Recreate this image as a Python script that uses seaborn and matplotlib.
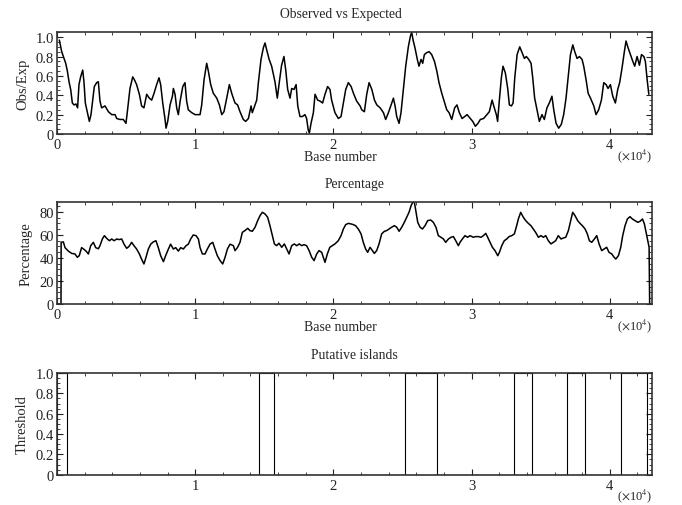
import numpy as np
import pandas as pd
import matplotlib
matplotlib.use("Agg")
import matplotlib.pyplot as plt
import seaborn as sns
from matplotlib.ticker import MultipleLocator, FuncFormatter

# ---------------- data (positions in kilobases) ----------------
oe_kb = [0.17, 0.34, 0.46, 0.63, 0.75, 0.87, 0.99, 1.11, 1.23, 1.37, 1.49, 1.59, 1.71, 1.86, 1.95,
         2.05, 2.20, 2.34, 2.46, 2.58, 2.70, 2.87, 2.99, 3.11, 3.23, 3.47, 3.72, 3.96, 4.20, 4.32,
         4.56, 4.80, 4.99, 5.09, 5.28, 5.48, 5.60, 5.76, 5.96, 6.12, 6.29, 6.49, 6.68, 6.85, 7.02,
         7.21, 7.38, 7.50, 7.65, 7.81, 7.89, 8.01, 8.18, 8.35, 8.42, 8.54, 8.66, 8.78, 8.91, 9.10,
         9.26, 9.38, 9.50, 9.75, 9.99, 10.35, 10.47, 10.64, 10.83, 10.95, 11.12, 11.31, 11.56, 11.75,
         11.92, 12.08, 12.28, 12.47, 12.64, 12.88, 13.07, 13.24, 13.48, 13.65, 13.85, 14.04, 14.13,
         14.33, 14.45, 14.57, 14.76, 14.93, 15.05, 15.17, 15.35, 15.53, 15.77, 15.94, 16.08, 16.25,
         16.42, 16.55, 16.69, 16.86, 16.98, 17.15, 17.30, 17.42, 17.58, 17.75, 17.94, 18.06, 18.18,
         18.26, 18.38, 18.55, 18.67, 18.86, 19.03, 19.22, 19.39, 19.58, 19.75, 19.87, 20.11, 20.36,
         20.55, 20.72, 20.89, 21.08, 21.28, 21.45, 21.68, 21.93, 22.05, 22.24, 22.41, 22.58, 22.78,
         22.97, 23.14, 23.38, 23.62, 23.78, 23.98, 24.22, 24.34, 24.46, 24.58, 24.75, 24.89, 25.06,
         25.23, 25.42, 25.57, 25.66, 25.78, 25.90, 26.07, 26.19, 26.34, 26.46, 26.58, 26.75, 26.92,
         27.11, 27.31, 27.48, 27.64, 27.84, 28.01, 28.20, 28.37, 28.56, 28.77, 28.94, 29.11, 29.31,
         29.50, 29.67, 29.91, 30.08, 30.27, 30.46, 30.63, 30.87, 31.11, 31.28, 31.48, 31.64, 31.79,
         31.88, 32.00, 32.15, 32.27, 32.44, 32.61, 32.73, 32.88, 33.00, 33.12, 33.29, 33.48, 33.65,
         33.82, 33.96, 34.13, 34.30, 34.42, 34.56, 34.73, 34.90, 35.09, 35.26, 35.45, 35.62, 35.81,
         35.94, 36.11, 36.30, 36.49, 36.66, 36.83, 36.98, 37.15, 37.32, 37.46, 37.63, 37.80, 37.99,
         38.11, 38.28, 38.43, 38.60, 38.84, 39.00, 39.19, 39.39, 39.56, 39.73, 39.87, 40.04, 40.21,
         40.40, 40.57, 40.71, 40.88, 41.05, 41.17, 41.32, 41.49, 41.66, 41.80, 41.97, 42.14, 42.29,
         42.46, 42.57, 42.70, 42.82]
oe_val = [0.97, 0.85, 0.80, 0.73, 0.65, 0.54, 0.46, 0.32, 0.30, 0.31, 0.27, 0.51, 0.59, 0.66, 0.54,
          0.32, 0.22, 0.13, 0.20, 0.35, 0.49, 0.53, 0.54, 0.34, 0.27, 0.29, 0.23, 0.20, 0.20, 0.16,
          0.15, 0.15, 0.11, 0.23, 0.47, 0.59, 0.56, 0.51, 0.41, 0.29, 0.27, 0.41, 0.37, 0.35, 0.42,
          0.51, 0.58, 0.51, 0.32, 0.16, 0.06, 0.13, 0.30, 0.39, 0.47, 0.41, 0.27, 0.20, 0.34, 0.49,
          0.53, 0.34, 0.25, 0.22, 0.20, 0.20, 0.30, 0.56, 0.73, 0.65, 0.51, 0.42, 0.37, 0.30,
          0.20, 0.23, 0.37, 0.51, 0.42, 0.32, 0.30, 0.23, 0.15, 0.13, 0.16, 0.29, 0.22,
          0.30, 0.35, 0.53, 0.77, 0.89, 0.94, 0.87, 0.77, 0.70, 0.54, 0.37, 0.53, 0.71,
          0.80, 0.66, 0.46, 0.37, 0.47, 0.46, 0.51, 0.29, 0.18, 0.18, 0.20, 0.16, 0.04,
          0.01, 0.11, 0.22, 0.41, 0.35, 0.34, 0.32, 0.41, 0.49, 0.46, 0.35, 0.22, 0.16,
          0.18, 0.32, 0.46, 0.53, 0.49, 0.42, 0.34, 0.29, 0.25, 0.23, 0.41, 0.53, 0.46,
          0.35, 0.30, 0.27, 0.22, 0.15, 0.22, 0.32, 0.37, 0.29, 0.18, 0.11, 0.22, 0.46,
          0.70, 0.90, 1.01, 1.05, 0.96, 0.89, 0.77, 0.70, 0.77, 0.73, 0.82, 0.84, 0.85,
          0.82, 0.75, 0.65, 0.53, 0.42, 0.34, 0.25, 0.22, 0.15, 0.27, 0.30, 0.22, 0.16,
          0.18, 0.20, 0.16, 0.13, 0.08, 0.11, 0.15, 0.16, 0.20, 0.23, 0.35, 0.27, 0.20,
          0.13, 0.34, 0.58, 0.70, 0.63, 0.47, 0.30, 0.29, 0.32, 0.58, 0.82, 0.90, 0.84,
          0.78, 0.80, 0.77, 0.73, 0.58, 0.37, 0.25, 0.13, 0.20, 0.15, 0.27, 0.32, 0.39,
          0.25, 0.11, 0.06, 0.10, 0.20, 0.37, 0.58, 0.82, 0.92, 0.85, 0.78, 0.80, 0.77,
          0.70, 0.56, 0.42, 0.37, 0.29, 0.20, 0.25, 0.35, 0.53, 0.51, 0.47, 0.51, 0.39,
          0.32, 0.46, 0.53, 0.68, 0.85, 0.96, 0.89, 0.82, 0.75, 0.70, 0.80, 0.71, 0.82,
          0.80, 0.75, 0.56, 0.41]

pct_kb = [0.00, 0.29, 0.30, 0.46, 0.58, 0.82, 1.06, 1.30, 1.47, 1.61, 1.78, 1.90, 2.10, 2.27, 2.44,
          2.63, 2.80, 2.99, 3.11, 3.28, 3.43, 3.60, 3.79, 3.96, 4.13, 4.32, 4.49, 4.68, 4.85, 5.04,
          5.21, 5.40, 5.57, 5.76, 5.96, 6.12, 6.29, 6.44, 6.61, 6.78, 6.97, 7.16, 7.33, 7.50, 7.70,
          7.86, 8.06, 8.22, 8.42, 8.59, 8.78, 8.95, 9.14, 9.34, 9.50, 9.67, 9.86, 10.06, 10.23, 10.35,
          10.52, 10.71, 10.88, 11.07, 11.27, 11.43, 11.60, 11.80, 11.99, 12.16, 12.33, 12.52, 12.76,
          12.88, 13.07, 13.24, 13.41, 13.60, 13.80, 13.96, 14.13, 14.33, 14.52, 14.69, 14.86, 15.05,
          15.24, 15.41, 15.58, 15.73, 15.89, 16.06, 16.26, 16.45, 16.62, 16.79, 16.98, 17.17, 17.34,
          17.53, 17.70, 17.87, 18.06, 18.24, 18.43, 18.60, 18.79, 18.96, 19.15, 19.27, 19.39, 19.56,
          19.74, 19.92, 20.11, 20.35, 20.55, 20.72, 20.89, 21.08, 21.27, 21.44, 21.61, 21.80, 22.00,
          22.16, 22.33, 22.48, 22.65, 22.82, 22.96, 23.13, 23.30, 23.49, 23.69, 23.85, 24.02, 24.21,
          24.41, 24.58, 24.75, 24.94, 25.13, 25.30, 25.47, 25.62, 25.74, 25.86, 25.98, 26.10, 26.27,
          26.44, 26.63, 26.82, 27.04, 27.23, 27.42, 27.59, 27.78, 27.96, 28.12, 28.32, 28.51, 28.68,
          28.85, 29.04, 29.16, 29.33, 29.52, 29.71, 29.88, 30.12, 30.29, 30.49, 30.68, 30.85, 31.02,
          31.16, 31.33, 31.50, 31.69, 31.89, 32.01, 32.18, 32.36, 32.54, 32.71, 32.90, 33.09, 33.26,
          33.38, 33.55, 33.74, 33.91, 34.10, 34.29, 34.46, 34.63, 34.83, 35.02, 35.19, 35.36, 35.55,
          35.74, 35.91, 36.08, 36.27, 36.47, 36.64, 36.81, 37.00, 37.17, 37.31, 37.48, 37.67, 37.84,
          38.01, 38.21, 38.37, 38.52, 38.69, 38.88, 39.05, 39.22, 39.41, 39.58, 39.77, 39.94, 40.14,
          40.31, 40.43, 40.62, 40.79, 40.93, 41.10, 41.27, 41.46, 41.63, 41.82, 42.02, 42.19, 42.36,
          42.50, 42.62, 42.74, 42.84, 42.88, 43.05]
pct_val = [0, 0, 53.6, 54, 49, 46, 44, 43.5, 40.6, 42, 49, 48, 46, 43.5, 50.7,
           53.6, 49, 48, 50.7, 56.5, 59.4, 57, 55, 56.5, 55, 56.5, 56, 56.5, 52, 48.4,
           50, 53.6, 50.7, 47.8, 43.5, 39, 34.8, 40.6, 47.8, 52, 54, 55, 49, 42, 36.8,
           42, 47.8, 52, 47.8, 49, 46, 49, 47.8, 50.7, 52, 56.5, 60, 59.4, 56.5, 49,
           43.5, 43.5, 47.8, 52, 53.6, 47.8, 42, 37.7, 34.8, 40.6, 47.8, 52, 50.7,
           46.4, 49.3, 53.6, 62.3, 63.8, 65.8, 63.8, 63.2, 66.7, 72.5, 76.8, 79.7, 78.3,
           75.4, 68, 59.4, 52.2, 50.7, 52.8, 49.3, 52.2, 47.8, 43.5, 50.7, 52.2, 50.7,
           52.2, 50.7, 51.6, 50.7, 46.4, 40.6, 37.7, 43.5, 46.4, 44.9, 40.6, 36.2, 43.5,
           49.3, 50.7, 52.2, 55, 59.4, 65.2, 69, 70.1, 69.6, 69, 68, 65.2, 60.9,
           53.6, 47.8, 44.9, 49.3, 46.4, 44, 46.4, 52.2, 60.9, 63.2, 63.8, 65.2, 66.7,
           68.1, 66.7, 63.2, 66.7, 71, 75.4, 79.7, 85.5, 88.4, 88.4, 79.7, 71, 66.7,
           65.2, 68.1, 72.5, 73, 71, 66.7, 59.4, 58, 56.5, 53.6, 56.5, 58, 58.6,
           55, 50.7, 53.6, 56.5, 59.4, 58, 59.4, 58, 58.6, 58.6, 58, 59.4, 61.4,
           58, 53.6, 49.3, 46.4, 42, 44.9, 50.7, 55, 56.5, 58.6, 59.4, 60.9, 68.1,
           73.9, 79.7, 75.4, 72.5, 70.1, 68.1, 65.2, 62.3, 58, 59.4, 58, 59.4, 55,
           52.2, 53.6, 55, 59.4, 56.5, 57.4, 58, 63.8, 72.5, 79.7, 76.8, 72.5, 70.1,
           68.1, 65.2, 60.9, 55, 53.6, 56.5, 59.4, 52.2, 46.4, 47.8, 49.3, 44.9, 43.5,
           40.6, 39.1, 42, 49.3, 59.4, 68.1, 73.9, 75.9, 73.9, 72.5, 71, 71.9, 73.9,
           69.6, 62.3, 55, 49.3, 0, 0]

island_start_kb = [0.0, 14.60, 25.20, 33.09, 36.93, 40.83]
island_end_kb = [0.76, 15.70, 27.52, 34.39, 38.23, 42.67]
seq_len_kb = 43.05

titles = ["Observed vs Expected", "Percentage", "Putative islands"]
ylabels = ["Obs/Exp", "Percentage", "Threshold"]

# ---------------- build frames ----------------
df_oe = pd.DataFrame({"pos": np.array(oe_kb) * 1000, "val": oe_val})
df_pct = pd.DataFrame({"pos": np.array(pct_kb) * 1000, "val": pct_val})
th_x, th_y = [0.0], [0.0]
for s, e in zip(island_start_kb, island_end_kb):
    th_x += [s * 1000, s * 1000, e * 1000, e * 1000]
    th_y += [0, 1, 1, 0]
th_x.append(seq_len_kb * 1000)
th_y.append(0)
df_th = pd.DataFrame({"pos": th_x, "val": th_y})

# ---------------- style ----------------
sns.set_theme(style="ticks")
plt.rcParams["font.family"] = ["Liberation Serif", "DejaVu Serif"]
plt.rcParams["mathtext.fontset"] = "stix"

fig = plt.figure(figsize=(6.82, 5.06), dpi=100)
W, H = 682, 506
boxes = [(33.3, 135), (203.3, 305), (374, 475.7)]
axes = []
for top, bot in boxes:
    ax = fig.add_axes([57 / W, 1 - bot / H, (652 - 57) / W, (bot - top) / H])
    axes.append(ax)

ax1, ax2, ax3 = axes
sns.lineplot(data=df_oe, x="pos", y="val", ax=ax1, color="black", lw=1.1,
             estimator=None, sort=False)
sns.lineplot(data=df_pct, x="pos", y="val", ax=ax2, color="black", lw=1.1,
             estimator=None, sort=False)
sns.lineplot(data=df_th, x="pos", y="val", ax=ax3, color="black", lw=0.8,
             estimator=None, sort=False)

ax1.set_ylim(0, max(oe_val))
ax2.set_ylim(0, max(pct_val))
ax3.set_ylim(0, 1)
ax1.set_xlim(0, seq_len_kb * 1000)
ax2.set_xlim(0, seq_len_kb * 1000)
ax3.set_xlim(1, seq_len_kb * 1000)

xfmt = FuncFormatter(lambda v, p: f"{v / 1e4:.0f}")
y1fmt = FuncFormatter(lambda v, p: "0" if abs(v) < 1e-9 else f"{v:.1f}")

for i, ax in enumerate(axes):
    ax.xaxis.set_major_locator(MultipleLocator(10000))
    ax.xaxis.set_minor_locator(MultipleLocator(2000))
    ax.xaxis.set_major_formatter(xfmt)
    if i == 1:
        ax.yaxis.set_major_locator(MultipleLocator(20))
        ax.yaxis.set_minor_locator(MultipleLocator(5))
    else:
        ax.yaxis.set_major_locator(MultipleLocator(0.2))
        ax.yaxis.set_minor_locator(MultipleLocator(0.05))
        ax.yaxis.set_major_formatter(y1fmt)
    ax.tick_params(which="both", direction="in", top=True, right=True,
                   labelsize=10.5, colors="#222222")
    ax.tick_params(axis="x", which="major", pad=3)
    ax.tick_params(axis="y", which="major", pad=2)
    ax.tick_params(which="major", length=4.5, width=0.8)
    ax.tick_params(which="minor", length=2.5, width=0.6)
    for sp in ax.spines.values():
        sp.set_color("#333333")
        sp.set_linewidth(1.2)
    ax.set_title(titles[i], fontsize=9.8, pad=11, x=0.477 if i == 0 else 0.5)
    ax.set_ylabel(ylabels[i], fontsize=10.5, labelpad=5)
    if i < 2:
        ax.set_xlabel("Base number", fontsize=10, labelpad=0)
        ax.xaxis.set_label_coords(0.477, -0.16)
    else:
        ax.set_xlabel("")
    ax.text(1.0, -0.205, r"($\times$10$^4$)", transform=ax.transAxes,
            ha="right", va="center", fontsize=9)

fig.savefig("out.png", dpi=100)
